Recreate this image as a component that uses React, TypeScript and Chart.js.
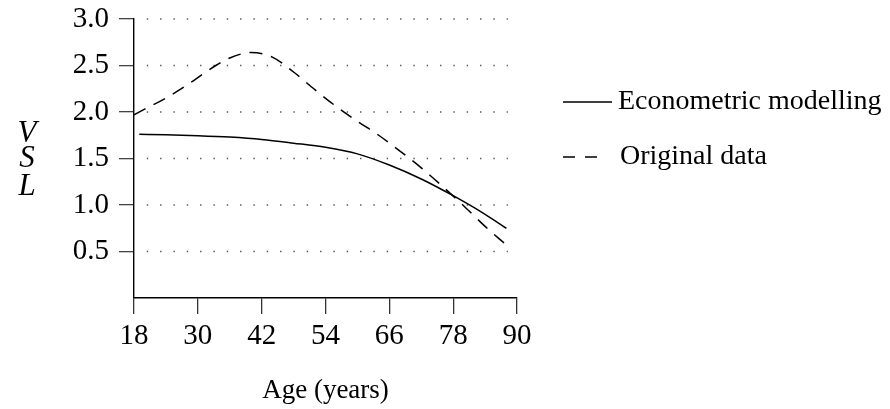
import React, { useEffect, useRef } from "react";
import { Chart, registerables } from "chart.js";

Chart.register(...registerables);

// ---- data ----
const AGES_MODEL = [19, 24, 30, 36, 42, 48, 54, 60, 66, 72, 78, 84, 88];
const VSL_MODEL = [1.76, 1.755, 1.745, 1.73, 1.705, 1.665, 1.62, 1.55, 1.43, 1.28, 1.1, 0.9, 0.75];
const AGES_ORIG = [18, 20, 24, 28, 32, 36, 40, 44, 48, 52, 56, 60, 64, 68, 72, 76, 80, 84, 88];
const VSL_ORIG = [1.97, 2.03, 2.15, 2.29, 2.45, 2.58, 2.64, 2.59, 2.43, 2.24, 2.06, 1.9, 1.75, 1.58, 1.4, 1.2, 0.99, 0.77, 0.57];
const X_TICKS = [18, 30, 42, 54, 66, 78, 90];
const Y_TICKS = [0, 0.5, 1.0, 1.5, 2.0, 2.5, 3.0];
const SERIES_LABELS = ["Econometric modelling", "Original data"];
const X_TITLE = "Age (years)";
const Y_TITLE = ["V", "S", "L"];
const GRID_FROM = 20.4;
const GRID_TO = 88;

const FONT = "'Liberation Serif', 'Times New Roman', serif";

const dottedGrid = {
  id: "dottedGrid",
  beforeDatasetsDraw(chart: any) {
    const { ctx, scales } = chart;
    const x = scales.x;
    const y = scales.y;
    const x0 = x.getPixelForValue(GRID_FROM);
    const x1 = x.getPixelForValue(GRID_TO);
    ctx.save();
    ctx.strokeStyle = "#555";
    ctx.lineWidth = 1.4;
    ctx.setLineDash([1.4, 11.93]);
    y.ticks.forEach((t: any) => {
      if (t.value <= 0) return;
      const py = y.getPixelForValue(t.value);
      ctx.beginPath();
      ctx.moveTo(x0, py);
      ctx.lineTo(x1 + 1.5, py);
      ctx.stroke();
    });
    ctx.restore();
  },
};

const sideTexts = {
  id: "sideTexts",
  afterDraw(chart: any) {
    const { ctx, chartArea } = chart;
    ctx.save();
    // stacked y title
    ctx.fillStyle = "#000";
    ctx.font = `italic 31px ${FONT}`;
    ctx.textAlign = "center";
    ctx.textBaseline = "alphabetic";
    const midY = (chartArea.top + chartArea.bottom) / 2;
    const baselines = [-16.5, 8.5, 36.5];
    Y_TITLE.forEach((s, i) => {
      ctx.fillText(s, 27, midY + baselines[i]);
    });
    // legend
    const lx = chartArea.right + 46;
    const rows = [chartArea.top + 83, chartArea.top + 138];
    chart.data.datasets.forEach((ds: any, i: number) => {
      const yy = rows[i];
      ctx.strokeStyle = "#000";
      ctx.lineWidth = 1.4;
      const dashed = ds.borderDash && ds.borderDash.length;
      ctx.setLineDash(dashed ? [12, 10] : []);
      ctx.beginPath();
      ctx.moveTo(lx, yy);
      ctx.lineTo(lx + (dashed ? 34 : 49), yy);
      ctx.stroke();
      ctx.setLineDash([]);
      ctx.font = `28px ${FONT}`;
      ctx.textAlign = "left";
      ctx.textBaseline = "middle";
      ctx.fillText(ds.label, lx + (dashed ? 57 : 55), yy);
    });
    ctx.restore();
  },
};

export default function App() {
  const ref = useRef<HTMLCanvasElement | null>(null);

  useEffect(() => {
    if (!ref.current) return;
    const chart = new Chart(ref.current, {
      type: "line",
      data: {
        datasets: [
          {
            label: SERIES_LABELS[0],
            data: AGES_MODEL.map((a, i) => ({ x: a, y: VSL_MODEL[i] })),
            borderColor: "#000",
            borderWidth: 1.5,
            pointRadius: 0,
            fill: false,
            cubicInterpolationMode: "monotone",
          },
          {
            label: SERIES_LABELS[1],
            data: AGES_ORIG.map((a, i) => ({ x: a, y: VSL_ORIG[i] })),
            borderColor: "#000",
            borderWidth: 1.5,
            borderDash: [13, 9],
            pointRadius: 0,
            fill: false,
            cubicInterpolationMode: "monotone",
          },
        ],
      },
      options: {
        responsive: false,
        animation: false,
        layout: { padding: { left: 0, right: 373, top: 19, bottom: 0 } },
        plugins: {
          legend: { display: false },
          tooltip: { enabled: false },
        },
        scales: {
          x: {
            type: "linear",
            min: 18,
            max: 90,
            afterBuildTicks: (s: any) => {
              s.ticks = X_TICKS.map((v) => ({ value: v }));
            },
            afterFit: (s: any) => {
              s.height = 111;
              s.paddingLeft = 0;
              s.paddingRight = 0;
            },
            border: { display: true, color: "#000", width: 1.4 },
            grid: {
              drawOnChartArea: false,
              drawTicks: true,
              tickLength: 16,
              tickColor: "#333",
              lineWidth: 1.3,
            },
            ticks: {
              color: "#000",
              font: { family: FONT, size: 29 },
              padding: 5,
              maxRotation: 0,
              autoSkip: false,
              callback: (v: any) => String(v),
            },
            title: {
              display: true,
              text: X_TITLE,
              color: "#000",
              font: { family: FONT, size: 27 },
              padding: { top: 0, bottom: 2 },
            },
          },
          y: {
            type: "linear",
            min: 0,
            max: 3,
            afterBuildTicks: (s: any) => {
              s.ticks = Y_TICKS.map((v) => ({ value: v }));
            },
            afterFit: (s: any) => {
              s.width = 134;
              s.paddingTop = 0;
              s.paddingBottom = 0;
            },
            border: { display: true, color: "#000", width: 1.4 },
            grid: {
              drawOnChartArea: false,
              drawTicks: true,
              tickLength: 15,
              tickColor: (c: any) => (c.tick && c.tick.value === 0 ? "rgba(0,0,0,0)" : "#444"),
              lineWidth: 1.3,
            },
            ticks: {
              color: "#000",
              font: { family: FONT, size: 29 },
              padding: 10,
              autoSkip: false,
              callback: (v: any) => (v === 0 ? "" : Number(v).toFixed(1)),
            },
          },
        },
      },
      plugins: [dottedGrid, sideTexts],
    });
    return () => chart.destroy();
  }, []);

  return (
    <div style={{ position: "absolute", left: 0, top: 0, width: 890, height: 409, background: "#fff" }}>
      <canvas ref={ref} width={890} height={409} style={{ display: "block" }} />
    </div>
  );
}
